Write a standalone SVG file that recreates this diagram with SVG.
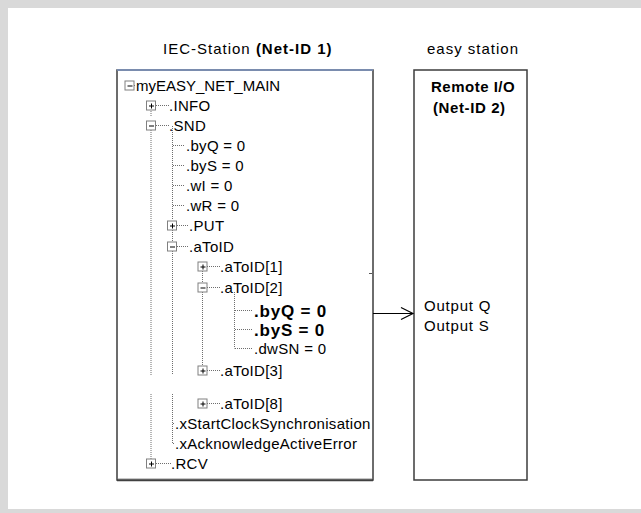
<svg xmlns="http://www.w3.org/2000/svg" width="641" height="513" viewBox="0 0 641 513">
<style>
text{font-family:"Liberation Sans",Arial,sans-serif;font-size:15px;fill:#000;letter-spacing:0.3px}
.b{font-weight:bold}
.tb{font-weight:bold;font-size:17px;letter-spacing:0.8px}
.t1{letter-spacing:1px}
.dot{stroke:#6e6e6e;stroke-width:1;stroke-dasharray:1 1;fill:none}
.ib{fill:#fff;stroke:#808080;stroke-width:1}
.sg{stroke:#000;stroke-width:1;fill:none}
.box{fill:#fff;stroke:#3c3c3c;stroke-width:1.5}
</style>
<defs>
<g id="plus"><rect class="ib" x="-4.5" y="-4.5" width="9" height="9"/><path class="sg" d="M-2,0.5H3M0.5,-2V3"/></g>
<g id="minus"><rect class="ib" x="-4.5" y="-4.5" width="9" height="9"/><path class="sg" d="M-2,0.5H3"/></g>
</defs>
<rect x="0" y="0" width="641" height="513" fill="#d9d9d9"/>
<rect x="8" y="8" width="633" height="501" fill="#fff"/>

<g id="titles">
<text class="t1" x="163" y="54">IEC-Station <tspan class="b">(Net-ID 1)</tspan></text>
<text class="t1" x="427" y="54">easy station</text>
</g>

<g id="iec-station">
<rect class="box" x="117" y="70" width="256" height="410"/>
<line x1="117" y1="70" x2="373" y2="70" stroke="#7f97c4" stroke-width="1.5"/>
<line x1="118" y1="478.5" x2="372" y2="478.5" stroke="#c8c8c8" stroke-width="1"/>
<line x1="117" y1="480.5" x2="373" y2="480.5" stroke="#404040" stroke-width="1.5"/>
<path class="dot" d="M151,107V116M151,126V375M151,394V459"/>
<path class="dot" d="M172.5,126V220M172.5,230V241M172.5,251V375M172.5,394V443.5"/>
<path class="dot" d="M202.5,271V282M202.5,292V365"/>
<path class="dot" d="M234.5,292V348.5"/>
<path class="dot" d="M134,85.5H135M156,105.5H169M156,125.5H169M173,145.5H185M173,165.5H185M173,185.5H185M173,205.5H185M177,225.5H188M177,246.5H188M207,266.5H220M207,287.5H220M235,310.5H253M235,329.5H253M235,348.5H253M207,370.5H220M207,403.5H220M173,423.5H174M173,443.5H174M156,463.5H171"/>
<use href="#minus" x="129.5" y="85.5"/>
<use href="#plus" x="151" y="105.5"/>
<use href="#minus" x="151" y="125.5"/>
<use href="#plus" x="172" y="225.5"/>
<use href="#minus" x="172" y="246.5"/>
<use href="#plus" x="202.5" y="266.5"/>
<use href="#minus" x="202.5" y="287.5"/>
<use href="#plus" x="202.5" y="370.5"/>
<use href="#plus" x="202.5" y="403.5"/>
<use href="#plus" x="151" y="463.5"/>
<text x="136" y="91" style="letter-spacing:0">myEASY_NET_MAIN</text>
<text x="169" y="111">.INFO</text>
<text x="169" y="131">.SND</text>
<text x="186" y="151">.byQ = 0</text>
<text x="186" y="171">.byS = 0</text>
<text x="186" y="191">.wI = 0</text>
<text x="186" y="211">.wR = 0</text>
<text x="189" y="231">.PUT</text>
<text x="189" y="252">.aToID</text>
<text x="220" y="272">.aToID[1]</text>
<text x="220" y="293">.aToID[2]</text>
<text class="tb" x="254" y="316.5">.byQ = 0</text>
<text class="tb" x="254" y="335.5">.byS = 0</text>
<text x="254" y="354">.dwSN = 0</text>
<text x="220" y="376">.aToID[3]</text>
<text x="220" y="409">.aToID[8]</text>
<text x="175" y="429">.xStartClockSynchronisation</text>
<text x="175" y="449">.xAcknowledgeActiveError</text>
<text x="171" y="469">.RCV</text>
</g>

<g id="easy-station">
<rect class="box" x="414" y="70" width="113" height="410"/>
<text class="b" x="431" y="92" style="letter-spacing:0.5px">Remote I/O</text>
<text class="b" x="433" y="113" style="letter-spacing:0.6px">(Net-ID 2)</text>
<text x="424" y="311" style="letter-spacing:0.8px">Output Q</text>
<text x="424" y="331" style="letter-spacing:0.8px">Output S</text>
</g>

<g id="connectors">
<line x1="369" y1="273.5" x2="372" y2="273.5" stroke="#555" stroke-width="1"/>
<path d="M373,313.5H413" stroke="#000" stroke-width="1.2" fill="none"/>
<path d="M401,307.5L413,313.5L401,319.5" stroke="#000" stroke-width="1.2" fill="none"/>
</g>
</svg>
